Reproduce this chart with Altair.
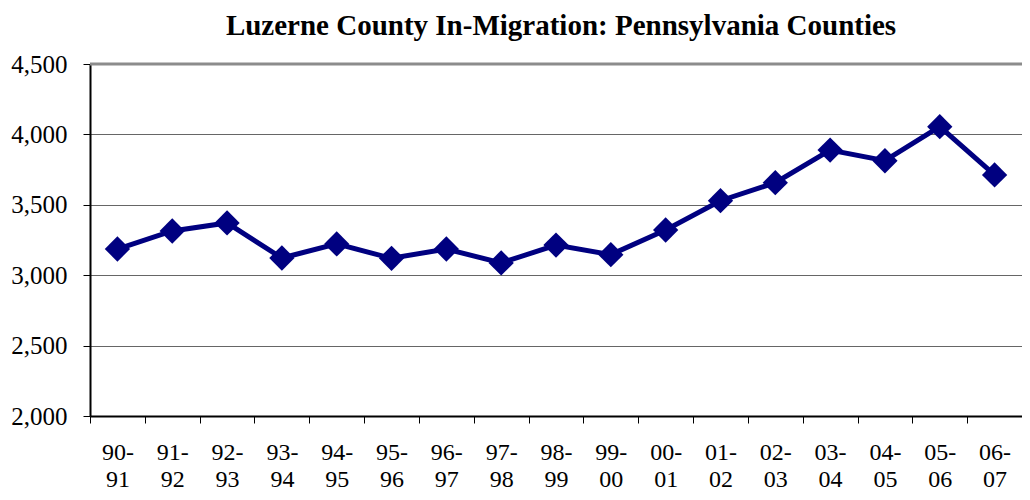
import altair as alt
import pandas as pd

periods = ["90-91", "91-92", "92-93", "93-94", "94-95", "95-96", "96-97", "97-98", "98-99",
           "99-00", "00-01", "01-02", "02-03", "03-04", "04-05", "05-06", "06-07"]
values = [3186, 3314, 3371, 3122, 3222, 3120, 3186, 3087, 3214,
          3146, 3321, 3529, 3657, 3889, 3813, 4055, 3712]
y_ticks = [2000, 2500, 3000, 3500, 4000, 4500]

df = pd.DataFrame({"period": periods, "value": values})

FONT = "Liberation Serif"
NAVY = "#000080"

x = alt.X("period:N", sort=periods, title=None,
          scale=alt.Scale(paddingInner=0, paddingOuter=0),
          axis=alt.Axis(labelAngle=0, labelFont=FONT, labelFontSize=24, labelColor="black",
                        labelExpr="[slice(datum.label,0,3), slice(datum.label,3)]",
                        labelLineHeight=27, labelBaseline="top", labelPadding=17,
                        domainColor="black", domainWidth=2, tickColor="black", tickSize=7,
                        tickWidth=1, tickBand="extent", grid=False))
y = alt.Y("value:Q", title=None,
          scale=alt.Scale(domain=[y_ticks[0], y_ticks[-1]], nice=False, zero=False),
          axis=alt.Axis(values=y_ticks, format=",.0f",
                        labelFont=FONT, labelFontSize=25, labelColor="black", labelPadding=16,
                        domainColor="black", domainWidth=2, tickColor="black", tickSize=7,
                        gridColor="#666666", gridWidth=1))

base = alt.Chart(df)
line = base.mark_line(color=NAVY, strokeWidth=5).encode(x=x, y=y)
pts = base.mark_point(shape="diamond", filled=True, color=NAVY, size=640, opacity=1).encode(x=x, y=y)
top = alt.Chart(pd.DataFrame({"value": [y_ticks[-1]]})).mark_rule(
    color="#8c8c8c", strokeWidth=3).encode(y=y)

chart = alt.layer(top, line, pts).properties(
    width=932, height=352,
    title=alt.TitleParams("Luzerne County In-Migration: Pennsylvania Counties",
                          font=FONT, fontSize=29, fontWeight="bold", color="black",
                          anchor="middle", dx=5, offset=11),
    autosize=alt.AutoSizeParams(type="none"),
    padding={"left": 82, "top": 56, "right": 0, "bottom": 76},
).configure_view(stroke=None).configure(background="white")

chart.save("out.html", embed_options={"renderer": "svg", "actions": False})
